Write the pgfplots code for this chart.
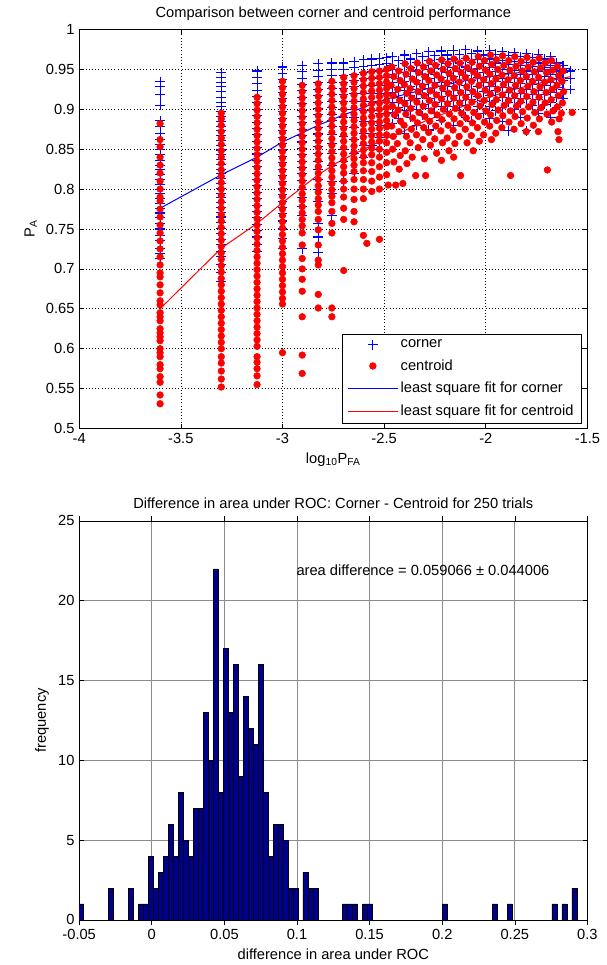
\documentclass[border=0pt]{standalone}
\usepackage{fontspec}
\setmainfont{Liberation Sans}
\usepackage{pgfplots}
\pgfplotsset{compat=1.18}
\definecolor{mblue}{RGB}{0,0,255}
\definecolor{mred}{RGB}{255,0,0}
\definecolor{histfill}{RGB}{0,0,143}
\pgfplotsset{
  markleg/.style={legend image code/.code={\draw[mark repeat=2,mark phase=2,##1] plot coordinates {(0cm,0cm) (0.65cm,0cm) (1.3cm,0cm)};}},
  lineleg/.style={legend image code/.code={\draw[##1] (0cm,0cm) -- (1.3cm,0cm);}},
}

\begin{document}
\begin{tikzpicture}
% ---- top: scatter of P_A against log10 P_FA ----
\begin{axis}[scale only axis, width=381.2pt, height=299.3pt,
  at={(0pt,0pt)}, anchor=south west,
  xmin=-4, xmax=-1.5, ymin=0.5, ymax=1,
  xtick={-4,-3.5,-3,-2.5,-2,-1.5},
  ytick={0.5,0.55,0.6,0.65,0.7,0.75,0.8,0.85,0.9,0.95,1},
  grid=major, grid style={black, dotted, line width=0.45pt},
  tick align=inside, major tick length=3.5pt,
  axis line style={line width=0.5pt},
  every tick/.style={black, line width=0.45pt},
  font=\fontsize{11}{13}\selectfont,
  /pgf/number format/assume math mode=true,
  ticklabel style={/pgf/number format/fixed, /pgf/number format/precision=2},
  scaled ticks=false,
  title={Comparison between corner and centroid performance},
  title style={yshift=-2.5pt},
  xlabel={log\textsubscript{10}P\textsubscript{FA}},
  ylabel={P\textsubscript{A}},
  legend style={at={(0.989,0.0133)}, anchor=south east, draw=black,
    line width=0.5pt, fill=white, inner xsep=4pt, inner ysep=2pt,
    row sep=3.5pt, font=\fontsize{11}{13}\selectfont},
  legend cell align=left]

\addplot[only marks, mark=+, mark size=3.6pt, color=mblue, line width=0.8pt,
  mark options={color=mblue, solid}, markleg]
coordinates {
(-3.602,0.935) (-3.602,0.928) (-3.602,0.918) (-3.602,0.905) (-3.602,0.886) (-3.602,0.878) (-3.602,0.870) (-3.602,0.862) (-3.602,0.856) (-3.602,0.850) (-3.602,0.843) (-3.602,0.836) (-3.602,0.830) (-3.602,0.824) (-3.602,0.818) (-3.602,0.812) (-3.602,0.806) (-3.602,0.800) (-3.602,0.794) (-3.602,0.788) (-3.602,0.782) (-3.602,0.776) (-3.602,0.770) (-3.602,0.764) (-3.602,0.757) (-3.602,0.750) (-3.602,0.742) (-3.602,0.735) (-3.602,0.726) (-3.602,0.719) (-3.602,0.713)
(-3.301,0.946) (-3.301,0.940) (-3.301,0.934) (-3.301,0.928) (-3.301,0.922) (-3.301,0.915) (-3.301,0.909) (-3.301,0.903) (-3.301,0.897) (-3.301,0.891) (-3.301,0.885) (-3.301,0.879) (-3.301,0.873) (-3.301,0.867) (-3.301,0.861) (-3.301,0.855) (-3.301,0.849) (-3.301,0.843) (-3.301,0.837) (-3.301,0.831) (-3.301,0.825) (-3.301,0.819) (-3.301,0.813) (-3.301,0.807) (-3.301,0.801) (-3.301,0.795) (-3.301,0.789) (-3.301,0.783) (-3.301,0.777) (-3.301,0.771) (-3.301,0.765) (-3.301,0.758) (-3.301,0.751) (-3.301,0.744) (-3.301,0.737) (-3.301,0.730) (-3.301,0.722) (-3.301,0.715) (-3.301,0.705) (-3.301,0.695) (-3.301,0.684)
(-3.125,0.948) (-3.125,0.940) (-3.125,0.932) (-3.125,0.924) (-3.125,0.916) (-3.125,0.908) (-3.125,0.900) (-3.125,0.892) (-3.125,0.884) (-3.125,0.876) (-3.125,0.868) (-3.125,0.860) (-3.125,0.852) (-3.125,0.844) (-3.125,0.836) (-3.125,0.828) (-3.125,0.820) (-3.125,0.812) (-3.125,0.804) (-3.125,0.796) (-3.125,0.788) (-3.125,0.780) (-3.125,0.772) (-3.125,0.764) (-3.125,0.756) (-3.125,0.748) (-3.125,0.740) (-3.125,0.731) (-3.125,0.722)
(-3.000,0.953) (-3.000,0.945) (-3.000,0.937) (-3.000,0.929) (-3.000,0.921) (-3.000,0.913) (-3.000,0.905) (-3.000,0.897) (-3.000,0.889) (-3.000,0.881) (-3.000,0.873) (-3.000,0.865) (-3.000,0.857) (-3.000,0.849) (-3.000,0.841) (-3.000,0.833) (-3.000,0.825) (-3.000,0.817) (-3.000,0.809) (-3.000,0.801) (-3.000,0.793) (-3.000,0.785) (-3.000,0.777) (-3.000,0.769) (-3.000,0.760) (-3.000,0.750) (-3.000,0.738) (-3.000,0.725)
(-2.903,0.955) (-2.903,0.947) (-2.903,0.939) (-2.903,0.931) (-2.903,0.923) (-2.903,0.915) (-2.903,0.907) (-2.903,0.899) (-2.903,0.891) (-2.903,0.883) (-2.903,0.875) (-2.903,0.867) (-2.903,0.859) (-2.903,0.851) (-2.903,0.843) (-2.903,0.835) (-2.903,0.827) (-2.903,0.819) (-2.903,0.811) (-2.903,0.800) (-2.903,0.790) (-2.903,0.778) (-2.903,0.767) (-2.903,0.725)
(-2.824,0.957) (-2.824,0.949) (-2.824,0.941) (-2.824,0.933) (-2.824,0.925) (-2.824,0.917) (-2.824,0.909) (-2.824,0.901) (-2.824,0.893) (-2.824,0.885) (-2.824,0.877) (-2.824,0.869) (-2.824,0.861) (-2.824,0.853) (-2.824,0.845) (-2.824,0.835) (-2.824,0.825) (-2.824,0.812) (-2.824,0.800) (-2.824,0.785) (-2.824,0.757) (-2.824,0.740) (-2.824,0.720)
(-2.757,0.958) (-2.757,0.950) (-2.757,0.942) (-2.757,0.934) (-2.757,0.926) (-2.757,0.918) (-2.757,0.910) (-2.757,0.902) (-2.757,0.894) (-2.757,0.886) (-2.757,0.878) (-2.757,0.868) (-2.757,0.857) (-2.757,0.845) (-2.757,0.830) (-2.757,0.810) (-2.757,0.795) (-2.757,0.767)
(-2.699,0.958) (-2.699,0.950) (-2.699,0.942) (-2.699,0.934) (-2.699,0.926) (-2.699,0.918) (-2.699,0.910) (-2.699,0.900) (-2.699,0.890) (-2.699,0.878) (-2.699,0.866) (-2.699,0.850) (-2.699,0.835) (-2.699,0.810)
(-2.648,0.960) (-2.648,0.952) (-2.648,0.944) (-2.648,0.936) (-2.648,0.928) (-2.648,0.920) (-2.648,0.910) (-2.648,0.900) (-2.648,0.890) (-2.648,0.877) (-2.648,0.862) (-2.648,0.845) (-2.648,0.820)
(-2.602,0.962) (-2.602,0.954) (-2.602,0.946) (-2.602,0.938) (-2.602,0.930) (-2.602,0.920) (-2.602,0.910) (-2.602,0.898) (-2.602,0.885) (-2.602,0.870) (-2.602,0.855) (-2.602,0.840)
(-2.561,0.963) (-2.561,0.955) (-2.561,0.947) (-2.561,0.939) (-2.561,0.930) (-2.561,0.920) (-2.561,0.910) (-2.561,0.898) (-2.561,0.885) (-2.561,0.870) (-2.561,0.855)
(-2.523,0.964) (-2.523,0.956) (-2.523,0.948) (-2.523,0.940) (-2.523,0.930) (-2.523,0.920) (-2.523,0.908) (-2.523,0.895) (-2.523,0.880) (-2.523,0.865) (-2.523,0.850)
(-2.488,0.965) (-2.488,0.957) (-2.488,0.949) (-2.488,0.940) (-2.488,0.930) (-2.488,0.920) (-2.488,0.908) (-2.488,0.895) (-2.488,0.880)
(-2.46,0.966) (-2.46,0.955) (-2.46,0.944) (-2.46,0.933) (-2.46,0.921) (-2.46,0.909) (-2.46,0.896) (-2.46,0.882)
(-2.43,0.961) (-2.43,0.950) (-2.43,0.939) (-2.43,0.927) (-2.43,0.915) (-2.43,0.902) (-2.43,0.888)
(-2.40,0.968) (-2.40,0.957) (-2.40,0.946) (-2.40,0.935) (-2.40,0.923) (-2.40,0.911) (-2.40,0.898) (-2.40,0.870)
(-2.37,0.963) (-2.37,0.952) (-2.37,0.941) (-2.37,0.929) (-2.37,0.917) (-2.37,0.904) (-2.37,0.890)
(-2.34,0.970) (-2.34,0.959) (-2.34,0.948) (-2.34,0.936) (-2.34,0.925) (-2.34,0.913) (-2.34,0.900) (-2.34,0.880)
(-2.31,0.966) (-2.31,0.955) (-2.31,0.943) (-2.31,0.931) (-2.31,0.919) (-2.31,0.906) (-2.31,0.892)
(-2.28,0.972) (-2.28,0.961) (-2.28,0.950) (-2.28,0.938) (-2.28,0.926) (-2.28,0.914) (-2.28,0.901) (-2.28,0.874)
(-2.25,0.967) (-2.25,0.956) (-2.25,0.944) (-2.25,0.933) (-2.25,0.921) (-2.25,0.908) (-2.25,0.895)
(-2.22,0.973) (-2.22,0.962) (-2.22,0.951) (-2.22,0.940) (-2.22,0.928) (-2.22,0.916) (-2.22,0.903) (-2.22,0.886)
(-2.19,0.968) (-2.19,0.957) (-2.19,0.946) (-2.19,0.934) (-2.19,0.922) (-2.19,0.910) (-2.19,0.897)
(-2.16,0.974) (-2.16,0.963) (-2.16,0.952) (-2.16,0.941) (-2.16,0.929) (-2.16,0.917) (-2.16,0.904) (-2.16,0.880)
(-2.13,0.969) (-2.13,0.958) (-2.13,0.947) (-2.13,0.935) (-2.13,0.923) (-2.13,0.911) (-2.13,0.898)
(-2.10,0.975) (-2.10,0.964) (-2.10,0.953) (-2.10,0.942) (-2.10,0.930) (-2.10,0.918) (-2.10,0.905) (-2.10,0.890)
(-2.07,0.970) (-2.07,0.959) (-2.07,0.948) (-2.07,0.936) (-2.07,0.924) (-2.07,0.912) (-2.07,0.885)
(-2.04,0.973) (-2.04,0.962) (-2.04,0.951) (-2.04,0.940) (-2.04,0.928) (-2.04,0.916) (-2.04,0.903)
(-2.01,0.968) (-2.01,0.957) (-2.01,0.946) (-2.01,0.934) (-2.01,0.922) (-2.01,0.910) (-2.01,0.895)
(-1.98,0.974) (-1.98,0.963) (-1.98,0.952) (-1.98,0.941) (-1.98,0.929) (-1.98,0.917) (-1.98,0.904) (-1.98,0.888)
(-1.95,0.969) (-1.95,0.958) (-1.95,0.947) (-1.95,0.935) (-1.95,0.923) (-1.95,0.911) (-1.95,0.898)
(-1.92,0.972) (-1.92,0.961) (-1.92,0.950) (-1.92,0.939) (-1.92,0.927) (-1.92,0.915) (-1.92,0.902) (-1.92,0.885)
(-1.89,0.967) (-1.89,0.956) (-1.89,0.945) (-1.89,0.933) (-1.89,0.921) (-1.89,0.909) (-1.89,0.873)
(-1.86,0.971) (-1.86,0.960) (-1.86,0.949) (-1.86,0.938) (-1.86,0.926) (-1.86,0.914) (-1.86,0.900)
(-1.83,0.966) (-1.83,0.955) (-1.83,0.944) (-1.83,0.932) (-1.83,0.920) (-1.83,0.908) (-1.83,0.890)
(-1.80,0.970) (-1.80,0.959) (-1.80,0.948) (-1.80,0.937) (-1.80,0.925) (-1.80,0.913) (-1.80,0.873)
(-1.77,0.965) (-1.77,0.954) (-1.77,0.943) (-1.77,0.931) (-1.77,0.919) (-1.77,0.905)
(-1.74,0.969) (-1.74,0.958) (-1.74,0.947) (-1.74,0.936) (-1.74,0.924) (-1.74,0.912) (-1.74,0.895)
(-1.71,0.963) (-1.71,0.952) (-1.71,0.941) (-1.71,0.930) (-1.71,0.918) (-1.71,0.906)
(-1.68,0.966) (-1.68,0.955) (-1.68,0.944) (-1.68,0.933) (-1.68,0.921) (-1.68,0.909) (-1.68,0.890)
(-1.65,0.958) (-1.65,0.948) (-1.65,0.938) (-1.65,0.927) (-1.65,0.915) (-1.65,0.902)
(-1.62,0.955) (-1.62,0.946) (-1.62,0.936) (-1.62,0.925) (-1.62,0.913)
(-1.585,0.948) (-1.585,0.938) (-1.585,0.925)
};
\addlegendentry{corner}

\addplot[only marks, mark=*, mark size=2.5pt, color=mred,
  mark options={color=mred, solid}, markleg]
coordinates {
(-3.602,0.882) (-3.602,0.862) (-3.602,0.853) (-3.602,0.840) (-3.602,0.830) (-3.602,0.820) (-3.602,0.810) (-3.602,0.800) (-3.602,0.790) (-3.602,0.785) (-3.602,0.775) (-3.602,0.765) (-3.602,0.755) (-3.602,0.745) (-3.602,0.735) (-3.602,0.725) (-3.602,0.715) (-3.602,0.705) (-3.602,0.695) (-3.602,0.690) (-3.602,0.680) (-3.602,0.670) (-3.602,0.660) (-3.602,0.655) (-3.602,0.645) (-3.602,0.640) (-3.602,0.635) (-3.602,0.625) (-3.602,0.620) (-3.602,0.615) (-3.602,0.610) (-3.602,0.600) (-3.602,0.595) (-3.602,0.590) (-3.602,0.580) (-3.602,0.575) (-3.602,0.565) (-3.602,0.558) (-3.602,0.542) (-3.602,0.531)
(-3.301,0.895) (-3.301,0.888) (-3.301,0.880) (-3.301,0.872) (-3.301,0.864) (-3.301,0.856) (-3.301,0.848) (-3.301,0.840) (-3.301,0.832) (-3.301,0.824) (-3.301,0.816) (-3.301,0.808) (-3.301,0.800) (-3.301,0.792) (-3.301,0.784) (-3.301,0.776) (-3.301,0.768) (-3.301,0.760) (-3.301,0.752) (-3.301,0.744) (-3.301,0.736) (-3.301,0.728) (-3.301,0.720) (-3.301,0.712) (-3.301,0.704) (-3.301,0.696) (-3.301,0.688) (-3.301,0.680) (-3.301,0.672) (-3.301,0.664) (-3.301,0.656) (-3.301,0.648) (-3.301,0.640) (-3.301,0.632) (-3.301,0.624) (-3.301,0.616) (-3.301,0.608) (-3.301,0.600) (-3.301,0.590) (-3.301,0.582) (-3.301,0.572) (-3.301,0.562) (-3.301,0.552)
(-3.125,0.915) (-3.125,0.907) (-3.125,0.899) (-3.125,0.891) (-3.125,0.883) (-3.125,0.875) (-3.125,0.867) (-3.125,0.859) (-3.125,0.851) (-3.125,0.843) (-3.125,0.835) (-3.125,0.827) (-3.125,0.819) (-3.125,0.811) (-3.125,0.803) (-3.125,0.795) (-3.125,0.787) (-3.125,0.779) (-3.125,0.771) (-3.125,0.763) (-3.125,0.755) (-3.125,0.747) (-3.125,0.739) (-3.125,0.731) (-3.125,0.723) (-3.125,0.715) (-3.125,0.707) (-3.125,0.699) (-3.125,0.691) (-3.125,0.683) (-3.125,0.675) (-3.125,0.667) (-3.125,0.659) (-3.125,0.651) (-3.125,0.643) (-3.125,0.635) (-3.125,0.627) (-3.125,0.619) (-3.125,0.611) (-3.125,0.603) (-3.125,0.590) (-3.125,0.583) (-3.125,0.575) (-3.125,0.566) (-3.125,0.555)
(-3.000,0.935) (-3.000,0.927) (-3.000,0.919) (-3.000,0.911) (-3.000,0.903) (-3.000,0.895) (-3.000,0.887) (-3.000,0.879) (-3.000,0.871) (-3.000,0.863) (-3.000,0.855) (-3.000,0.847) (-3.000,0.839) (-3.000,0.831) (-3.000,0.823) (-3.000,0.815) (-3.000,0.807) (-3.000,0.799) (-3.000,0.791) (-3.000,0.783) (-3.000,0.775) (-3.000,0.767) (-3.000,0.759) (-3.000,0.751) (-3.000,0.743) (-3.000,0.735) (-3.000,0.727) (-3.000,0.719) (-3.000,0.711) (-3.000,0.703) (-3.000,0.695) (-3.000,0.687) (-3.000,0.679) (-3.000,0.671) (-3.000,0.663) (-3.000,0.656) (-3.000,0.595)
(-2.903,0.930) (-2.903,0.922) (-2.903,0.914) (-2.903,0.906) (-2.903,0.898) (-2.903,0.890) (-2.903,0.882) (-2.903,0.874) (-2.903,0.866) (-2.903,0.858) (-2.903,0.850) (-2.903,0.842) (-2.903,0.834) (-2.903,0.826) (-2.903,0.818) (-2.903,0.810) (-2.903,0.802) (-2.903,0.794) (-2.903,0.786) (-2.903,0.778) (-2.903,0.770) (-2.903,0.762) (-2.903,0.754) (-2.903,0.745) (-2.903,0.730) (-2.903,0.713) (-2.903,0.700) (-2.903,0.687) (-2.903,0.672) (-2.903,0.640) (-2.903,0.592) (-2.903,0.569)
(-2.824,0.932) (-2.824,0.924) (-2.824,0.916) (-2.824,0.908) (-2.824,0.900) (-2.824,0.892) (-2.824,0.884) (-2.824,0.876) (-2.824,0.868) (-2.824,0.860) (-2.824,0.852) (-2.824,0.844) (-2.824,0.836) (-2.824,0.828) (-2.824,0.820) (-2.824,0.812) (-2.824,0.804) (-2.824,0.796) (-2.824,0.788) (-2.824,0.780) (-2.824,0.772) (-2.824,0.762) (-2.824,0.749) (-2.824,0.730) (-2.824,0.711) (-2.824,0.705) (-2.824,0.668) (-2.824,0.651)
(-2.757,0.935) (-2.757,0.927) (-2.757,0.919) (-2.757,0.911) (-2.757,0.903) (-2.757,0.895) (-2.757,0.887) (-2.757,0.879) (-2.757,0.871) (-2.757,0.863) (-2.757,0.855) (-2.757,0.847) (-2.757,0.839) (-2.757,0.831) (-2.757,0.823) (-2.757,0.815) (-2.757,0.807) (-2.757,0.799) (-2.757,0.791) (-2.757,0.783) (-2.757,0.772) (-2.757,0.757) (-2.757,0.745) (-2.757,0.651) (-2.757,0.640)
(-2.699,0.940) (-2.699,0.932) (-2.699,0.924) (-2.699,0.916) (-2.699,0.908) (-2.699,0.900) (-2.699,0.892) (-2.699,0.884) (-2.699,0.876) (-2.699,0.868) (-2.699,0.860) (-2.699,0.852) (-2.699,0.844) (-2.699,0.836) (-2.699,0.828) (-2.699,0.820) (-2.699,0.810) (-2.699,0.800) (-2.699,0.790) (-2.699,0.776) (-2.699,0.762) (-2.699,0.698)
(-2.648,0.942) (-2.648,0.934) (-2.648,0.926) (-2.648,0.918) (-2.648,0.910) (-2.648,0.902) (-2.648,0.894) (-2.648,0.886) (-2.648,0.878) (-2.648,0.870) (-2.648,0.862) (-2.648,0.854) (-2.648,0.846) (-2.648,0.838) (-2.648,0.830) (-2.648,0.822) (-2.648,0.812) (-2.648,0.800) (-2.648,0.787) (-2.648,0.772) (-2.648,0.759)
(-2.602,0.945) (-2.602,0.937) (-2.602,0.929) (-2.602,0.921) (-2.602,0.913) (-2.602,0.905) (-2.602,0.897) (-2.602,0.889) (-2.602,0.881) (-2.602,0.873) (-2.602,0.865) (-2.602,0.857) (-2.602,0.849) (-2.602,0.841) (-2.602,0.833) (-2.602,0.823) (-2.602,0.812) (-2.602,0.800) (-2.602,0.788) (-2.602,0.742) (-2.585,0.732)
(-2.561,0.947) (-2.561,0.939) (-2.561,0.931) (-2.561,0.923) (-2.561,0.915) (-2.561,0.907) (-2.561,0.899) (-2.561,0.891) (-2.561,0.883) (-2.561,0.875) (-2.561,0.867) (-2.561,0.859) (-2.561,0.851) (-2.561,0.843) (-2.561,0.833) (-2.561,0.822) (-2.561,0.810) (-2.561,0.797)
(-2.523,0.948) (-2.523,0.940) (-2.523,0.932) (-2.523,0.924) (-2.523,0.916) (-2.523,0.908) (-2.523,0.900) (-2.523,0.892) (-2.523,0.884) (-2.523,0.876) (-2.523,0.868) (-2.523,0.860) (-2.523,0.850) (-2.523,0.840) (-2.523,0.828) (-2.523,0.815) (-2.523,0.800) (-2.523,0.737)
(-2.488,0.950) (-2.488,0.942) (-2.488,0.934) (-2.488,0.926) (-2.488,0.918) (-2.488,0.910) (-2.488,0.902) (-2.488,0.894) (-2.488,0.886) (-2.488,0.878) (-2.488,0.868) (-2.488,0.858) (-2.488,0.846) (-2.488,0.833) (-2.488,0.818) (-2.480,0.805)
(-2.462,0.953) (-2.452,0.941) (-2.466,0.930) (-2.455,0.917) (-2.460,0.904) (-2.449,0.893) (-2.463,0.879) (-2.455,0.866) (-2.458,0.850) (-2.452,0.834) (-2.443,0.805)
(-2.428,0.948) (-2.421,0.936) (-2.433,0.925) (-2.424,0.911) (-2.431,0.899) (-2.419,0.885) (-2.427,0.872) (-2.435,0.857) (-2.421,0.842) (-2.426,0.825) (-2.408,0.807)
(-2.397,0.957) (-2.392,0.944) (-2.401,0.931) (-2.389,0.920) (-2.398,0.907) (-2.393,0.894) (-2.402,0.880) (-2.390,0.866) (-2.396,0.848) (-2.388,0.832)
(-2.368,0.951) (-2.361,0.938) (-2.372,0.926) (-2.364,0.914) (-2.369,0.901) (-2.360,0.889) (-2.366,0.875) (-2.372,0.858) (-2.362,0.840)
(-2.337,0.958) (-2.331,0.946) (-2.340,0.934) (-2.333,0.922) (-2.339,0.909) (-2.329,0.896) (-2.336,0.883) (-2.341,0.868) (-2.332,0.852) (-2.345,0.817)
(-2.306,0.953) (-2.300,0.941) (-2.311,0.929) (-2.303,0.917) (-2.308,0.904) (-2.299,0.891) (-2.305,0.877) (-2.310,0.862) (-2.302,0.838) (-2.296,0.817)
(-2.277,0.960) (-2.271,0.948) (-2.280,0.936) (-2.273,0.923) (-2.278,0.911) (-2.269,0.898) (-2.276,0.885) (-2.281,0.871) (-2.272,0.855)
(-2.247,0.955) (-2.241,0.943) (-2.250,0.930) (-2.243,0.918) (-2.249,0.906) (-2.239,0.893) (-2.246,0.879) (-2.251,0.863) (-2.242,0.845)
(-2.217,0.962) (-2.210,0.950) (-2.220,0.938) (-2.212,0.926) (-2.218,0.913) (-2.209,0.900) (-2.216,0.887) (-2.221,0.873) (-2.213,0.858) (-2.218,0.836)
(-2.186,0.957) (-2.180,0.945) (-2.190,0.933) (-2.183,0.920) (-2.188,0.907) (-2.179,0.894) (-2.185,0.880) (-2.190,0.864) (-2.181,0.848)
(-2.157,0.963) (-2.150,0.951) (-2.160,0.939) (-2.153,0.927) (-2.158,0.914) (-2.149,0.901) (-2.156,0.888) (-2.161,0.874) (-2.152,0.857) (-2.158,0.840)
(-2.127,0.958) (-2.121,0.946) (-2.130,0.934) (-2.123,0.921) (-2.128,0.908) (-2.119,0.895) (-2.126,0.882) (-2.131,0.866) (-2.124,0.817)
(-2.097,0.964) (-2.091,0.952) (-2.100,0.940) (-2.093,0.928) (-2.098,0.915) (-2.089,0.902) (-2.096,0.889) (-2.101,0.875) (-2.092,0.858)
(-2.067,0.959) (-2.061,0.947) (-2.070,0.935) (-2.063,0.922) (-2.068,0.909) (-2.059,0.896) (-2.066,0.883) (-2.071,0.867) (-2.062,0.848)
(-2.037,0.966) (-2.031,0.954) (-2.040,0.942) (-2.033,0.930) (-2.038,0.917) (-2.029,0.904) (-2.036,0.891) (-2.041,0.877) (-2.032,0.860)
(-2.007,0.961) (-2.001,0.949) (-2.010,0.937) (-2.003,0.924) (-2.008,0.911) (-1.999,0.898) (-2.006,0.884) (-2.011,0.868)
(-1.977,0.968) (-1.971,0.956) (-1.980,0.944) (-1.973,0.932) (-1.978,0.919) (-1.969,0.906) (-1.976,0.893) (-1.981,0.879) (-1.972,0.862)
(-1.947,0.962) (-1.941,0.950) (-1.950,0.938) (-1.943,0.925) (-1.948,0.912) (-1.939,0.899) (-1.946,0.886) (-1.951,0.870)
(-1.917,0.967) (-1.911,0.955) (-1.920,0.943) (-1.913,0.931) (-1.918,0.918) (-1.909,0.905) (-1.916,0.892) (-1.921,0.877)
(-1.887,0.961) (-1.881,0.949) (-1.890,0.937) (-1.883,0.924) (-1.888,0.911) (-1.879,0.898) (-1.886,0.884) (-1.878,0.817)
(-1.857,0.966) (-1.851,0.954) (-1.860,0.942) (-1.853,0.930) (-1.858,0.917) (-1.849,0.904) (-1.856,0.891) (-1.861,0.875)
(-1.827,0.960) (-1.821,0.948) (-1.830,0.936) (-1.823,0.923) (-1.828,0.910) (-1.819,0.897) (-1.826,0.882)
(-1.797,0.965) (-1.791,0.953) (-1.800,0.941) (-1.793,0.929) (-1.798,0.916) (-1.789,0.903) (-1.796,0.889) (-1.801,0.872)
(-1.767,0.959) (-1.761,0.947) (-1.770,0.935) (-1.763,0.922) (-1.768,0.909) (-1.759,0.896) (-1.766,0.880)
(-1.737,0.964) (-1.731,0.952) (-1.740,0.940) (-1.733,0.928) (-1.738,0.915) (-1.729,0.902) (-1.736,0.888) (-1.741,0.872)
(-1.707,0.958) (-1.701,0.946) (-1.710,0.934) (-1.703,0.921) (-1.708,0.908) (-1.699,0.894) (-1.697,0.824)
(-1.677,0.961) (-1.671,0.949) (-1.680,0.937) (-1.673,0.925) (-1.678,0.912) (-1.669,0.898) (-1.676,0.884)
(-1.647,0.954) (-1.641,0.942) (-1.650,0.930) (-1.643,0.917) (-1.648,0.903) (-1.639,0.888) (-1.645,0.872) (-1.640,0.862)
(-1.620,0.948) (-1.625,0.935) (-1.617,0.922) (-1.623,0.908) (-1.628,0.895) (-1.575,0.896)
};
\addlegendentry{centroid}

\addplot[color=mblue, line width=0.75pt, mark=none, lineleg]
coordinates {(-3.602,0.776) (-3.301,0.818) (-3.125,0.840) (-3.0,0.859) (-2.824,0.880) (-2.699,0.893) (-2.5,0.912) (-2.3,0.925) (-2.1,0.936) (-1.9,0.944) (-1.7,0.950) (-1.58,0.951)};
\addlegendentry{least square fit for corner}

\addplot[color=mred, line width=0.75pt, mark=none, lineleg]
coordinates {(-3.602,0.650) (-3.301,0.726) (-3.125,0.757) (-3.0,0.783) (-2.824,0.818) (-2.732,0.833) (-2.6,0.850) (-2.5,0.862) (-2.4,0.873) (-2.3,0.885) (-2.2,0.895) (-2.1,0.905) (-2.0,0.914) (-1.9,0.922) (-1.8,0.929) (-1.7,0.935) (-1.58,0.941)};
\addlegendentry{least square fit for centroid}
\end{axis}

% ---- bottom: histogram of area differences ----
\begin{axis}[scale only axis, width=381.2pt, height=299.3pt,
  at={(0pt,-368.6pt)}, anchor=south west,
  xmin=-0.05, xmax=0.3, ymin=0, ymax=25,
  xtick={-0.05,0,0.05,0.1,0.15,0.2,0.25,0.3},
  ytick={0,5,10,15,20,25},
  grid=major, grid style={black!45, line width=0.5pt},
  tick align=inside, major tick length=3.5pt,
  axis line style={line width=0.5pt},
  every tick/.style={black, line width=0.45pt},
  font=\fontsize{11}{13}\selectfont,
  /pgf/number format/assume math mode=true,
  xticklabel style={/pgf/number format/fixed, /pgf/number format/precision=2},
  scaled ticks=false,
  title={Difference in area under ROC: Corner - Centroid for 250 trials},
  xlabel={difference in area under ROC},
  ylabel={frequency},
  ybar, bar width=0.00343, bar shift=0pt]
\addplot[fill=histfill, draw=black, line width=0.4pt] coordinates {
(-0.0486,1) (-0.0280,2) (-0.0143,2) (-0.0074,1) (-0.0040,1) (-0.0006,4) (0.0029,2) (0.0063,3) (0.0097,4) (0.0131,6) (0.0166,4) (0.0200,8) (0.0234,5) (0.0269,4) (0.0303,7) (0.0337,7) (0.0372,13) (0.0406,10) (0.0440,22) (0.0474,8) (0.0509,17) (0.0543,13) (0.0577,16) (0.0612,9) (0.0646,14) (0.0680,12) (0.0715,11) (0.0749,16) (0.0783,8) (0.0817,4) (0.0852,6) (0.0886,6) (0.0920,5) (0.0955,2) (0.0989,2) (0.1058,3) (0.1092,2) (0.1126,2) (0.1332,1) (0.1366,1) (0.1401,1) (0.1469,1) (0.1503,1) (0.2018,1) (0.2361,1) (0.2464,1) (0.2773,1) (0.2841,1) (0.2910,2)};
\node[anchor=west, inner sep=0pt] at (axis cs:0.0995,21.9) {area difference = 0.059066 ± 0.044006};
\end{axis}

\pgfresetboundingbox
\path[use as bounding box] (-59.4pt,321.4pt) rectangle (395.85pt,-402.4pt);
\end{tikzpicture}
\end{document}
